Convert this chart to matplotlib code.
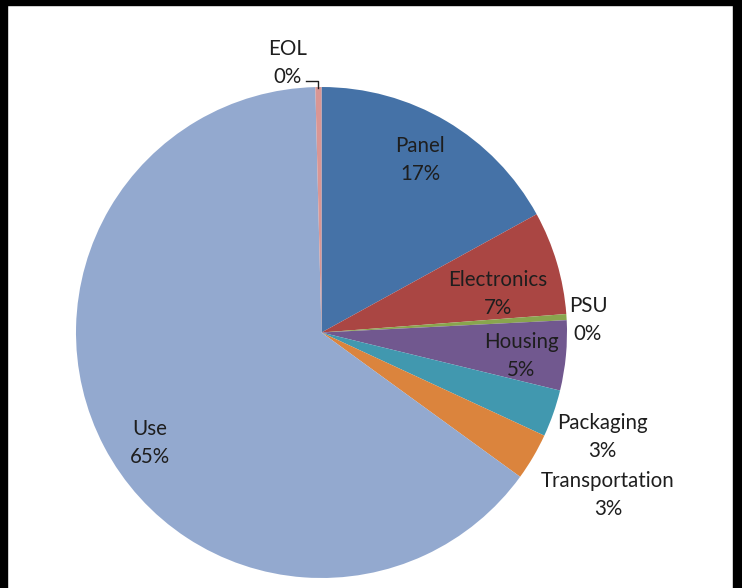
import matplotlib
matplotlib.use("Agg")
import matplotlib.pyplot as plt
from matplotlib.lines import Line2D
from matplotlib.patches import Rectangle

# --- data (share of impact per life-cycle stage, %) ---
stages = ["Panel", "Electronics", "PSU", "Housing", "Packaging",
          "Transportation", "Use", "EOL"]
shares = [17.0, 6.8, 0.4, 4.6, 3.1, 3.1, 64.6, 0.4]
colors = ["#4572A7", "#AA4643", "#89A54E", "#71588F", "#4198AF",
          "#DB843D", "#93A9CF", "#D99694"]

# label block centres, in pixels of the 742x588 image
label_px = [(420, 157), (498, 291), (588, 317), (521, 353),
            (602, 434), (608, 492), (150, 440), (288, 60)]

W, H = 742, 588
CX, CY, R = 321.5, 332.5, 245.5


def px2data(px, py):
    return (px - CX) / R, (CY - py) / R


fig = plt.figure(figsize=(W / 100, H / 100), dpi=100)
ax = fig.add_axes([0, 0, 1, 1])

ax.pie(shares, colors=colors, startangle=90, counterclock=False,
       radius=1, center=(0, 0), normalize=True,
       wedgeprops=dict(linewidth=0), frame=True)
ax.set_xlim(-CX / R, (W - CX) / R)
ax.set_ylim(-(H - CY) / R, CY / R)
ax.set_aspect("auto")
ax.axis("off")

total = sum(shares)
for name, val, (px, py) in zip(stages, shares, label_px):
    x, y = px2data(px, py + 3)
    ax.text(x, y, f"{name}\n{val / total * 100:.0f}%", ha="center", va="center",
            fontsize=14.8, family="Lato", color="#1e1e1e", linespacing=1.48)

# leader line for EOL
pts = [px2data(306, 81), px2data(318, 81), px2data(318, 88)]
ax.add_line(Line2D([p[0] for p in pts], [p[1] for p in pts],
                   color="#1e1e1e", lw=1))

# black frame (left, top, right)
for x0, y0, w, h in [(0, 0, 7, H), (0, 0, W, 5), (733, 0, 9, H)]:
    fig.patches.append(Rectangle((x0 / W, 1 - (y0 + h) / H), w / W, h / H,
                                 transform=fig.transFigure, color="black",
                                 zorder=10))

fig.savefig("out.png", dpi=100)
